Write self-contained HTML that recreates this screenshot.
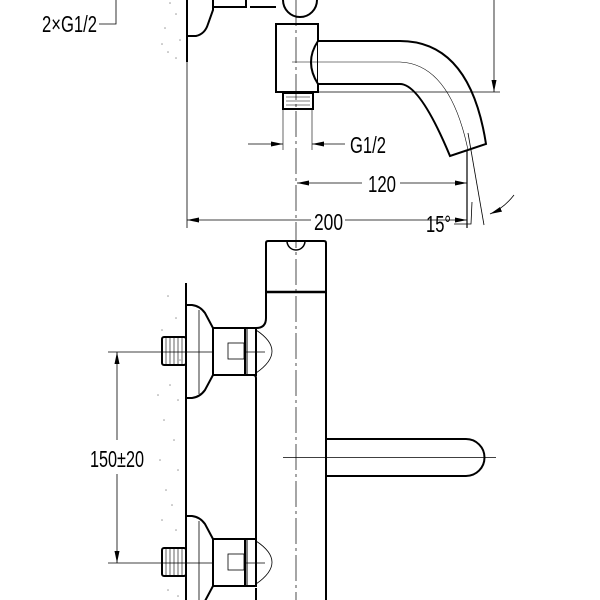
<!DOCTYPE html>
<html><head><style>html,body{margin:0;padding:0;background:#fff}svg{display:block}</style></head>
<body>
<svg width="600" height="600" viewBox="0 0 600 600" xmlns="http://www.w3.org/2000/svg" font-family="Liberation Sans, sans-serif">
<defs>
<marker id="a" markerWidth="12" markerHeight="6" refX="12" refY="3" orient="auto" markerUnits="userSpaceOnUse"><path d="M0,0.5 L12,3 L0,5.5z" fill="#000"/></marker>
<g id="inlet" fill="none" stroke="#000">
<path d="M186,305 L192,305 Q200,306 205,313 L213,328 L213,375 L205,390 Q200,397 192,398 L186,398" stroke-width="2"/>
<line x1="199" y1="310" x2="199" y2="394" stroke-width="0.8"/>
<rect x="213" y="328" width="32" height="47" stroke-width="2" fill="#fff"/>
<rect x="245" y="328" width="11" height="47" stroke-width="2"/>
<line x1="247" y1="328" x2="247" y2="375" stroke-width="1"/>
<path d="M256,330 Q288,351 256,373" stroke-width="0.8"/>
<rect x="228" y="343" width="16" height="16" stroke-width="0.8"/>
<rect x="162" y="337" width="24" height="28" rx="2" stroke-width="2"/>
<path d="M166,337 L166,365 M170,337 L170,365 M174,337 L174,365 M178,337 L178,365 M182,337 L182,365" stroke-width="0.6"/>
</g>
</defs>
<g fill="none" stroke="#000">
<line x1="187" y1="0" x2="187" y2="62" stroke-width="2"/>
<path d="M187,36 L196,36 Q205,34 208,24 L213,10 L213,0" stroke-width="2"/>
<path d="M213,7 L246,7 L246,0 M250,7 L276,7" stroke-width="2"/>
<path d="M276,24 L276,92 L318,92 L318,24 Z" stroke-width="2"/>
<path d="M283,0 A17,17 0 0 0 317,0" stroke-width="2"/>
<path d="M318,41 L400,41 Q470,41 486,144 L450,156 Q420,84 400,84 L318,84" stroke-width="2" fill="#fff"/>
<path d="M318,41 Q304,62 318,84" stroke-width="2"/>
<path d="M292,62 L400,62 Q450,64 468,150" stroke-width="0.6"/>
<rect x="283" y="93" width="30" height="16" stroke-width="2"/>
<path d="M286,97 L310,97 M286,101 L310,101 M286,105 L310,105" stroke-width="0.6"/>
<line x1="296" y1="0" x2="296" y2="600" stroke-width="0.7" stroke-dasharray="26,4,3,4"/>
<line x1="318" y1="92" x2="500" y2="92" stroke-width="0.8"/>
<line x1="494" y1="0" x2="494" y2="92" stroke-width="0.8" marker-end="url(#a)"/>
<line x1="283" y1="110" x2="283" y2="150" stroke-width="0.6"/>
<line x1="312" y1="110" x2="312" y2="150" stroke-width="0.6"/>
<line x1="248" y1="144" x2="283" y2="144" stroke-width="0.8" marker-end="url(#a)"/>
<line x1="345" y1="144" x2="312" y2="144" stroke-width="0.8" marker-end="url(#a)"/>
<line x1="467" y1="150" x2="467" y2="228" stroke-width="1.2"/>
<line x1="187" y1="62" x2="187" y2="228" stroke-width="0.8"/>
<line x1="362" y1="183" x2="297" y2="183" stroke-width="0.8" marker-end="url(#a)"/>
<line x1="400" y1="183" x2="467" y2="183" stroke-width="0.8" marker-end="url(#a)"/>
<line x1="311" y1="220" x2="187" y2="220" stroke-width="0.8" marker-end="url(#a)"/>
<line x1="345" y1="220" x2="467" y2="220" stroke-width="0.8" marker-end="url(#a)"/>
<line x1="468" y1="133" x2="484" y2="225" stroke-width="0.8"/>
<path d="M514,195 Q504,208 490,214" stroke-width="0.8" marker-end="url(#a)"/>
<path d="M454,224 L471,224 L472,202" stroke-width="0.8"/>
<path d="M99,24 L116,24 L116,0" stroke-width="0.8"/>
<line x1="186" y1="283" x2="186" y2="600" stroke-width="2"/>
<path d="M256,600 L256,588 M256,541 L256,378 Q256,375 253,375 M256,328 Q266,328 266,318 L266,243 Q266,241 268,241 L324,241 Q326,241 326,243 L326,600" stroke-width="2"/>
<line x1="266" y1="292" x2="326" y2="292" stroke-width="2.5"/>
<path d="M287,241 A9,9 0 0 0 305,241" stroke-width="1.5"/>
<path d="M326,439 L466,439 A18.5,18.5 0 0 1 466,476 L326,476" stroke-width="2"/>
<line x1="283" y1="457.5" x2="496" y2="457.5" stroke-width="0.7"/>
<line x1="108" y1="352" x2="265" y2="352" stroke-width="0.7"/>
<line x1="108" y1="563" x2="265" y2="563" stroke-width="0.7"/>
<line x1="117" y1="440" x2="117" y2="352" stroke-width="0.8" marker-end="url(#a)"/>
<line x1="117" y1="474" x2="117" y2="563" stroke-width="0.8" marker-end="url(#a)"/>
</g>
<use href="#inlet"/>
<use href="#inlet" transform="translate(0,211)"/>
<g fill="#999">
<circle cx="170" cy="3" r=".8"/><circle cx="176" cy="14" r=".8"/><circle cx="165" cy="28" r=".8"/><circle cx="180" cy="40" r=".8"/><circle cx="168" cy="52" r=".8"/><circle cx="176" cy="58" r=".8"/><circle cx="162" cy="44" r=".8"/>
<circle cx="168" cy="296" r=".8"/><circle cx="176" cy="318" r=".8"/><circle cx="162" cy="330" r=".8"/><circle cx="170" cy="385" r=".8"/><circle cx="178" cy="400" r=".8"/><circle cx="164" cy="420" r=".8"/><circle cx="174" cy="440" r=".8"/><circle cx="160" cy="460" r=".8"/><circle cx="178" cy="470" r=".8"/><circle cx="166" cy="490" r=".8"/><circle cx="172" cy="505" r=".8"/><circle cx="162" cy="520" r=".8"/><circle cx="176" cy="530" r=".8"/><circle cx="168" cy="590" r=".8"/><circle cx="178" cy="596" r=".8"/><circle cx="158" cy="395" r=".8"/><circle cx="180" cy="360" r=".8"/>
</g>
<g font-size="23" fill="#000">
<text x="42" y="32" textLength="55" lengthAdjust="spacingAndGlyphs">2×G1/2</text>
<text x="350" y="153" textLength="36" lengthAdjust="spacingAndGlyphs">G1/2</text>
<text x="368" y="192" textLength="28" lengthAdjust="spacingAndGlyphs">120</text>
<text x="314" y="230" textLength="29" lengthAdjust="spacingAndGlyphs">200</text>
<text x="426" y="232" textLength="25" lengthAdjust="spacingAndGlyphs">15°</text>
<text x="90" y="467" textLength="54" lengthAdjust="spacingAndGlyphs">150±20</text>
</g>
</svg>
</body></html>
